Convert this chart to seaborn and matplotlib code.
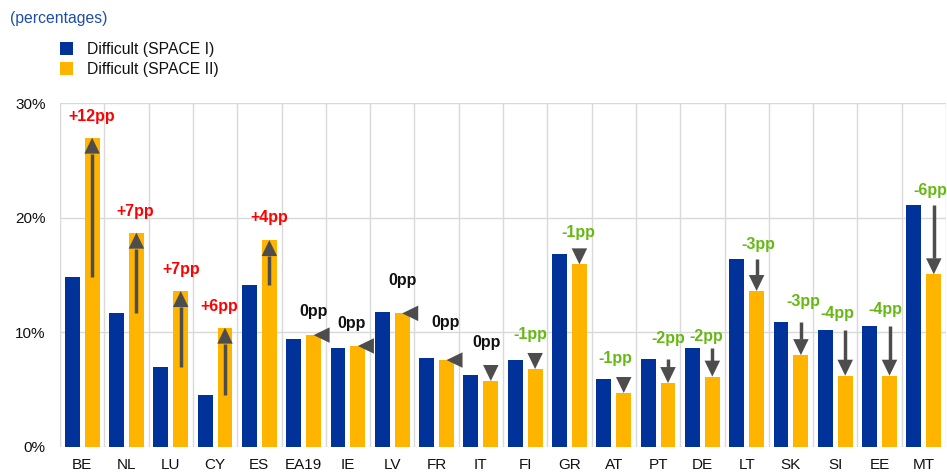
import numpy as np
import pandas as pd
import matplotlib
matplotlib.use("Agg")
import matplotlib.pyplot as plt
from matplotlib.patches import Polygon, Patch
from matplotlib.lines import Line2D
import seaborn as sns

# Share of firms reporting access to finance as difficult, by country
countries = ["BE", "NL", "LU", "CY", "ES", "EA19", "IE", "LV", "FR", "IT",
             "FI", "GR", "AT", "PT", "DE", "LT", "SK", "SI", "EE", "MT"]
space_1 = [14.8, 11.65, 7.0, 4.5, 14.1, 9.4, 8.6, 11.76, 7.72, 6.23,
           7.57, 16.85, 5.89, 7.69, 8.58, 16.39, 10.92, 10.17, 10.54, 21.1]
space_2 = [27.0, 18.7, 13.6, 10.4, 18.05, 9.75, 8.8, 11.65, 7.57, 5.74,
           6.79, 15.93, 4.69, 5.56, 6.12, 13.6, 8.0, 6.2, 6.2, 15.06]
series_names = ["Difficult (SPACE I)", "Difficult (SPACE II)"]
y_ticks = [0, 10, 20, 30]
y_tick_labels = ["0%", "10%", "20%", "30%"]

# Hand placement of the change labels (pixels): sideways shift and lift above the arrow
label_dx = [0, -1, 0, -6, 0, 0, -6, 0, -1, -4, -5, -1, -8, 0, -6, 2, 2, -8, -4, -4]
label_gap = [14, 14, 14, 14, 15, 8, 7, 18, 22, 15, 11, 8, 11, 13, 4, 7, 13, 9, 9, 7]

BLUE = "#003299"
YELLOW = "#FFB400"
ARROW = "#4D4D4D"
RED = "#FF0000"
GREEN = "#66B814"
GRID = "#D9D9D9"

sns.set_theme(style="white")
plt.rcParams["font.family"] = ["Liberation Sans", "DejaVu Sans"]

W, H = 947, 475
fig = plt.figure(figsize=(W / 100, H / 100), dpi=100)
ax_bottom, ax_top, ax_left, ax_right = 446.7, 103.3, 60, 946
ax = fig.add_axes([ax_left / W, (H - ax_bottom) / H,
                   (ax_right - ax_left) / W, (ax_bottom - ax_top) / H])

df = pd.DataFrame({
    "country": countries * 2,
    "value": space_1 + space_2,
    "survey": [series_names[0]] * len(countries) + [series_names[1]] * len(countries),
})
sns.barplot(data=df, x="country", y="value", hue="survey", order=countries,
            hue_order=series_names, palette=[BLUE, YELLOW], saturation=1,
            width=0.9, gap=0.25, errorbar=None, linewidth=0, legend=False, ax=ax)

ax.set_xlim(-0.5, len(countries) - 0.5)
ax.set_ylim(0, 30)
ax.set_yticks(y_ticks)
ax.set_yticklabels(y_tick_labels)
ax.set_xticks(np.arange(-0.5, len(countries), 1), minor=True)
ax.set_xlabel("")
ax.set_ylabel("")
ax.set_axisbelow(True)
ax.grid(axis="y", which="major", color=GRID, linewidth=1.0)
ax.grid(axis="x", which="minor", color=GRID, linewidth=1.0)
ax.grid(axis="x", which="major", visible=False)
for s in ax.spines.values():
    s.set_visible(False)
ax.tick_params(axis="y", which="both", length=0, pad=10.3, labelsize=11, labelcolor="#111111")
ax.tick_params(axis="x", which="both", length=0, pad=8, labelsize=11, labelcolor="#111111")

# Arrows from the SPACE I level to the SPACE II bar top
p0 = ax.transData.transform((0, 0))
p1 = ax.transData.transform((1, 1))
ppx, ppy = p1[0] - p0[0], p1[1] - p0[1]
head_len, head_w = 16.0, 15.5

second = ax.containers[1]
for i, (b, y) in enumerate(zip(space_1, space_2)):
    patch = second.patches[i]
    x = patch.get_x() + patch.get_width() / 2
    d = y - b
    hl = head_len / ppy
    hw = head_w / 2 / ppx
    if abs(d) < 0.4:
        tri = [(x, y), (x + head_len / ppx, y + head_w / 2 / ppy),
               (x + head_len / ppx, y - head_w / 2 / ppy)]
        top = y + head_w / 2 / ppy
    elif d > 0:
        base = y - hl
        tri = [(x, y), (x - hw, base), (x + hw, base)]
        if b < base:
            ax.add_line(Line2D([x, x], [b, base], color=ARROW, linewidth=2.5,
                               solid_capstyle="butt", zorder=4))
        top = y
    else:
        base = y + hl
        tri = [(x, y), (x - hw, base), (x + hw, base)]
        if b > base:
            ax.add_line(Line2D([x, x], [b, base], color=ARROW, linewidth=2.5,
                               solid_capstyle="butt", zorder=4))
        top = max(b, base)
    ax.add_patch(Polygon(tri, closed=True, facecolor=ARROW, edgecolor="none",
                         zorder=5, clip_on=False))

    change = int(round(d))
    if change > 0:
        txt, col = f"+{change}pp", RED
    elif change < 0:
        txt, col = f"{change}pp", GREEN
    else:
        txt, col = "0pp", "#111111"
    ax.annotate(txt, xy=(x, top), xytext=(label_dx[i] * 0.72, label_gap[i] * 0.72),
                textcoords="offset points", ha="center", va="bottom",
                fontsize=11.5, fontweight="bold", color=col,
                annotation_clip=False, zorder=6)

fig.text(10 / W, 1 - 18 / H, "(percentages)", ha="left", va="center",
         fontsize=11.3, color="#1F4EA8")

handles = [Patch(facecolor=BLUE, edgecolor="none"), Patch(facecolor=YELLOW, edgecolor="none")]
fig.legend(handles, series_names, loc="upper left", bbox_to_anchor=(60 / W, 1 - 42 / H),
           frameon=False, fontsize=11.3, handlelength=0.85, handleheight=0.85,
           handletextpad=0.9, labelspacing=0.3, borderpad=0, borderaxespad=0,
           labelcolor="#111111")

fig.savefig("out.png", dpi=100)
